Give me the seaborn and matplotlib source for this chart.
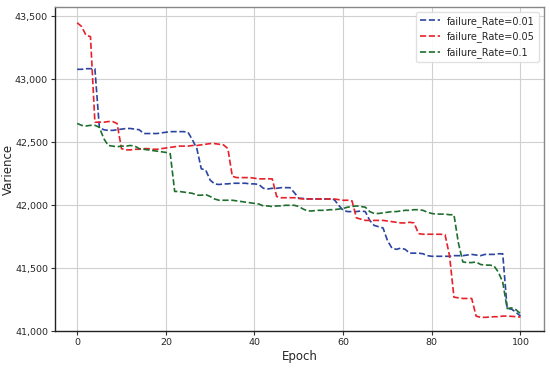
import numpy as np
import pandas as pd
import matplotlib
matplotlib.use("Agg")
import matplotlib.pyplot as plt
import matplotlib.ticker as mticker
import seaborn as sns

# datos (varianza por epoca)
epochs = list(range(101))

rate_001 = [43080, 43080, 43085, 43085, 43085, 42620, 42600, 42595, 42595, 42600,
            42605, 42610, 42610, 42605, 42600, 42570, 42570, 42570, 42570, 42575,
            42580, 42585, 42585, 42585, 42585, 42580, 42520, 42450, 42290, 42280,
            42200, 42170, 42165, 42170, 42170, 42175, 42175, 42175, 42175, 42170,
            42170, 42165, 42135, 42130, 42135, 42135, 42140, 42140, 42140, 42100,
            42055, 42055, 42050, 42050, 42050, 42050, 42050, 42050, 42045, 42000,
            41960, 41950, 41950, 41950, 41955, 41950, 41880, 41840, 41830, 41820,
            41720, 41660, 41650, 41660, 41650, 41620, 41620, 41620, 41615, 41600,
            41595, 41595, 41595, 41595, 41595, 41600, 41600, 41600, 41605, 41610,
            41605, 41600, 41610, 41610, 41610, 41615, 41615, 41180, 41175, 41150,
            41120]

rate_005 = [43450, 43420, 43350, 43340, 42660, 42660, 42660, 42665, 42665, 42650,
            42450, 42440, 42440, 42445, 42445, 42450, 42450, 42445, 42445, 42450,
            42455, 42460, 42465, 42470, 42470, 42470, 42475, 42475, 42480, 42485,
            42490, 42490, 42485, 42480, 42450, 42230, 42220, 42220, 42220, 42220,
            42215, 42210, 42210, 42210, 42210, 42070, 42060, 42060, 42060, 42060,
            42055, 42050, 42050, 42050, 42050, 42050, 42050, 42050, 42050, 42045,
            42040, 42040, 42035, 41900, 41890, 41880, 41880, 41880, 41880, 41880,
            41875, 41870, 41865, 41860, 41860, 41865, 41860, 41775, 41770, 41770,
            41770, 41770, 41770, 41765, 41600, 41270, 41265, 41260, 41260, 41260,
            41120, 41110, 41110, 41112, 41115, 41115, 41120, 41120, 41118, 41115,
            41112]

rate_01 = [42650, 42635, 42630, 42635, 42635, 42620, 42530, 42475, 42470, 42465,
           42470, 42470, 42475, 42470, 42450, 42445, 42440, 42435, 42430, 42425,
           42420, 42410, 42110, 42110, 42105, 42100, 42095, 42080, 42080, 42085,
           42070, 42050, 42040, 42040, 42040, 42040, 42035, 42030, 42025, 42020,
           42015, 42010, 41995, 41995, 41990, 41995, 41995, 42000, 42000, 42000,
           41990, 41970, 41955, 41955, 41960, 41960, 41960, 41965, 41965, 41970,
           41975, 41985, 41990, 41995, 41990, 41985, 41950, 41935, 41935, 41940,
           41945, 41950, 41950, 41955, 41960, 41960, 41965, 41965, 41960, 41945,
           41935, 41930, 41930, 41930, 41925, 41925, 41700, 41550, 41545, 41545,
           41550, 41530, 41525, 41525, 41520, 41470, 41390, 41180, 41185, 41170,
           41140]

labels = ["failure_Rate=0.01", "failure_Rate=0.05", "failure_Rate=0.1"]
colores = ["#2a44a0", "#e8202a", "#1e6e2e"]

#Creando el grafico
sns.set_style("whitegrid")
fig = plt.figure(figsize=(5.5, 3.68), dpi=100)
ax = fig.add_axes([0.1, 0.1, 0.889, 0.881])

for serie, lab, col in zip([rate_001, rate_005, rate_01], labels, colores):
    df = pd.DataFrame({"Epoch": epochs, "Varience": serie})
    sns.lineplot(data=df, x="Epoch", y="Varience", ax=ax, color=col,
                 linestyle="--", linewidth=1.2, label=lab)

ax.set_xlim(-5, 105.3)
ax.set_ylim(41000, 43575)
ax.set_xticks([0, 20, 40, 60, 80, 100])
ax.set_yticks([41000, 41500, 42000, 42500, 43000, 43500])
ax.yaxis.set_major_formatter(mticker.StrMethodFormatter("{x:,.0f}"))

ax.grid(True, color="#d0d0d0", linewidth=0.8)
ax.tick_params(axis="both", labelsize=6.8, length=3, pad=2, color="#333333",
               left=True, bottom=True)
ax.set_xlabel("Epoch", fontsize=8.5)
ax.set_ylabel("Varience", fontsize=8.5)
ax.yaxis.set_label_coords(-0.083, 0.5)
ax.xaxis.set_label_coords(0.5, -0.058)

for lado in ["left", "bottom"]:
    ax.spines[lado].set_color("#222222")
    ax.spines[lado].set_linewidth(1.0)
for lado in ["top", "right"]:
    ax.spines[lado].set_color("#888888")
    ax.spines[lado].set_linewidth(1.0)

ax.legend(loc="upper right", fontsize=7, frameon=True, framealpha=0.9,
          edgecolor="#dddddd", fancybox=True)

plt.savefig("out.png", dpi=100)
